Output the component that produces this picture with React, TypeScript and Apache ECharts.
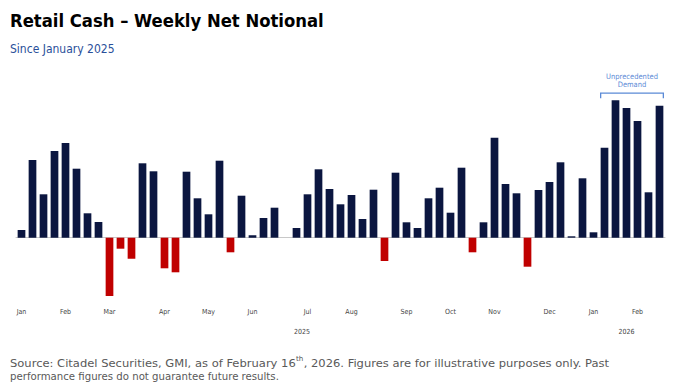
import React, { useEffect, useRef } from "react";
import * as echarts from "echarts";

// Week start dates (Mon)
const weeks = [
  "2025-01-06", "2025-01-13", "2025-01-20", "2025-01-27",
  "2025-02-03", "2025-02-10", "2025-02-17", "2025-02-24",
  "2025-03-03", "2025-03-10", "2025-03-17", "2025-03-24", "2025-03-31",
  "2025-04-07", "2025-04-14", "2025-04-21", "2025-04-28",
  "2025-05-05", "2025-05-12", "2025-05-19", "2025-05-26",
  "2025-06-02", "2025-06-09", "2025-06-16", "2025-06-23", "2025-06-30",
  "2025-07-07", "2025-07-14", "2025-07-21", "2025-07-28",
  "2025-08-04", "2025-08-11", "2025-08-18", "2025-08-25",
  "2025-09-01", "2025-09-08", "2025-09-15", "2025-09-22", "2025-09-29",
  "2025-10-06", "2025-10-13", "2025-10-20", "2025-10-27",
  "2025-11-03", "2025-11-10", "2025-11-17", "2025-11-24",
  "2025-12-01", "2025-12-08", "2025-12-15", "2025-12-22", "2025-12-29",
  "2026-01-05", "2026-01-12", "2026-01-19", "2026-01-26",
  "2026-02-02", "2026-02-09", "2026-02-16",
];

// Weekly net notional (relative units)
const netNotional = [
  7.7, 77.7, 43.4, 86.7, 94.7, 69, 24.4, 15.7,
  -58.3, -11, -21, 74.4, 66.4, -30.6, -34.6, 66, 39.4, 23.4, 77, -14.6,
  42, 2.4, 19.7, 30, 0, 9.7, 43.4, 68.4, 48.7, 33.4, 42.7, 18.7, 48, -23.3,
  65, 15.4, 9.7, 39.4, 50, 25, 70, -14.6, 15.4, 100, 53.7, 44.4, -29,
  47.7, 55.7, 75.4, 1.4, 59.4, 5.4, 90, 137.4, 129.7, 116.7, 45.4, 132,
];

// Month tick labels: [week index, label]
const monthTicks: [number, string][] = [
  [0, "Jan"], [4, "Feb"], [8, "Mar"], [13, "Apr"], [17, "May"], [21, "Jun"],
  [26, "Jul"], [30, "Aug"], [35, "Sep"], [39, "Oct"], [43, "Nov"], [48, "Dec"],
  [52, "Jan"], [56, "Feb"],
];

// Year labels: [week index, label]
const yearTicks: [number, string][] = [
  [26, "2025"], [55, "2026"],
];

// Annotated range (week indices)
const highlightRange: [number, number] = [53, 58];
const highlightText = "Unprecedented\nDemand";

const noteA = "Source: Citadel Securities, GMI, as of February 16";
const noteSup = "th";
const noteB = ", 2026. Figures are for illustrative purposes only. Past";
const noteLine2 = "performance figures do not guarantee future results.";

const NAVY = "#0b1640";
const RED = "#c00000";
const FAMILY = '"DejaVu Sans Condensed", "DejaVu Sans", sans-serif';
const ANNO = "#5b8ad6";
const NOTE = "#595959";
const NOTE_SIZE = 11.3;
const NOTE_LINE1_WIDTH = 599;

function measure(text: string, size: number): number {
  const cv = document.createElement("canvas");
  const ctx = cv.getContext("2d");
  if (!ctx) return text.length * size * 0.5;
  ctx.font = `${size}px ${FAMILY}`;
  return ctx.measureText(text).width;
}

export default function App() {
  const ref = useRef<HTMLDivElement>(null);

  useEffect(() => {
    if (!ref.current) return;
    const chart = echarts.init(ref.current, undefined, { renderer: "svg" });
    const monthMap: Record<number, string> = {};
    monthTicks.forEach(([i, l]) => (monthMap[i] = l));
    const yearMap: Record<number, string> = {};
    yearTicks.forEach(([i, l]) => (yearMap[i] = l));

    const labelAxisBase = {
      type: "category" as const,
      data: weeks,
      position: "bottom" as const,
      boundaryGap: true,
      axisLine: { show: false, onZero: false },
      axisTick: { show: false },
      splitLine: { show: false },
    };

    const wA = measure(noteA, NOTE_SIZE);
    const wSup = measure(noteSup, 7);
    const wB = measure(noteB, NOTE_SIZE);
    const line1Scale = NOTE_LINE1_WIDTH / (wA + wSup + wB + 0.6);

    chart.setOption({
      animation: false,
      backgroundColor: "#ffffff",
      grid: { left: 16, right: 12, top: 87.7, bottom: 84.3 },
      xAxis: [
        {
          type: "category",
          data: weeks,
          boundaryGap: true,
          axisLine: { show: true, onZero: true, lineStyle: { color: "#c8c8c8", width: 1 } },
          axisTick: { show: false },
          axisLabel: { show: false },
          splitLine: { show: false },
          z: 1,
        },
        {
          ...labelAxisBase,
          axisLabel: {
            interval: 0,
            margin: 1,
            fontSize: 7,
            color: "#444444",
            fontFamily: FAMILY,
            formatter: (_v: string, i: number) => monthMap[i] ?? "",
          },
        },
        {
          ...labelAxisBase,
          offset: 20,
          axisLabel: {
            interval: 0,
            margin: 1,
            fontSize: 7,
            color: "#444444",
            fontFamily: FAMILY,
            formatter: (_v: string, i: number) =>
              yearMap[i] ? (i === 26 ? "{s|" + yearMap[i] + "}" : yearMap[i]) : "",
            rich: { s: { fontSize: 7, fontFamily: FAMILY, color: "#444444", padding: [0, 11, 0, 0] } },
          },
        },
      ],
      yAxis: { type: "value", min: -70, max: 150, show: false },
      series: [
        {
          type: "bar",
          data: netNotional,
          xAxisIndex: 0,
          barWidth: "70%",
          itemStyle: {
            color: (p: any) => (p.value >= 0 ? NAVY : RED),
          },
          z: 2,
        },
      ],
      graphic: [
        {
          type: "text",
          x: 10,
          y: 20,
          style: {
            text: "Retail Cash – Weekly Net Notional",
            fontSize: 18.3,
            fontWeight: "bold",
            fontFamily: FAMILY,
            fill: "#000000",
            verticalAlign: "middle",
          },
        },
        {
          type: "text",
          x: 10,
          y: 48.5,
          style: {
            text: "Since January 2025",
            fontSize: 12,
            fontFamily: FAMILY,
            fill: "#2a4f9a",
            verticalAlign: "middle",
          },
        },
        {
          type: "group",
          x: 10,
          y: 363,
          scaleX: line1Scale,
          children: [
            {
              type: "text",
              x: 0,
              y: 0,
              style: { text: noteA, fontSize: NOTE_SIZE, fontFamily: FAMILY, fill: NOTE, verticalAlign: "middle" },
            },
            {
              type: "text",
              x: wA + 0.3,
              y: -4.5,
              style: { text: noteSup, fontSize: 7, fontFamily: FAMILY, fill: NOTE, verticalAlign: "middle" },
            },
            {
              type: "text",
              x: wA + wSup + 0.6,
              y: 0,
              style: { text: noteB, fontSize: NOTE_SIZE, fontFamily: FAMILY, fill: NOTE, verticalAlign: "middle" },
            },
          ],
        },
        {
          type: "text",
          x: 10,
          y: 376,
          style: { text: noteLine2, fontSize: NOTE_SIZE, fontFamily: FAMILY, fill: NOTE, verticalAlign: "middle" },
        },
      ],
    });

    // Annotation bracket over the highlighted weeks, placed via the axis scale
    const c0 = chart.convertToPixel({ xAxisIndex: 0 }, weeks[0]) as number;
    const c1 = chart.convertToPixel({ xAxisIndex: 0 }, weeks[1]) as number;
    const band = c1 - c0;
    const xa = (chart.convertToPixel({ xAxisIndex: 0 }, weeks[highlightRange[0]]) as number) - band * 0.35;
    const xb = (chart.convertToPixel({ xAxisIndex: 0 }, weeks[highlightRange[1]]) as number) + band * 0.35;
    const yTop = chart.convertToPixel({ yAxisIndex: 0 }, 144.5) as number;
    const yLow = chart.convertToPixel({ yAxisIndex: 0 }, 139.5) as number;
    const yText = chart.convertToPixel({ yAxisIndex: 0 }, 149.5) as number;

    chart.setOption({
      graphic: [
        {
          id: "bracket",
          type: "polyline",
          shape: { points: [[xa, yLow], [xa, yTop], [xb, yTop], [xb, yLow]] },
          style: { stroke: ANNO, lineWidth: 1.3, fill: null },
        },
        {
          id: "annoText",
          type: "text",
          x: (xa + xb) / 2,
          y: yText,
          style: {
            text: highlightText,
            fontSize: 7.5,
            fontFamily: FAMILY,
            fill: ANNO,
            align: "center",
            verticalAlign: "bottom",
            lineHeight: 8,
          },
        },
      ],
    });

    return () => chart.dispose();
  }, []);

  return (
    <div
      ref={ref}
      style={{ position: "fixed", left: 0, top: 0, width: 677, height: 392, background: "#fff" }}
    />
  );
}
